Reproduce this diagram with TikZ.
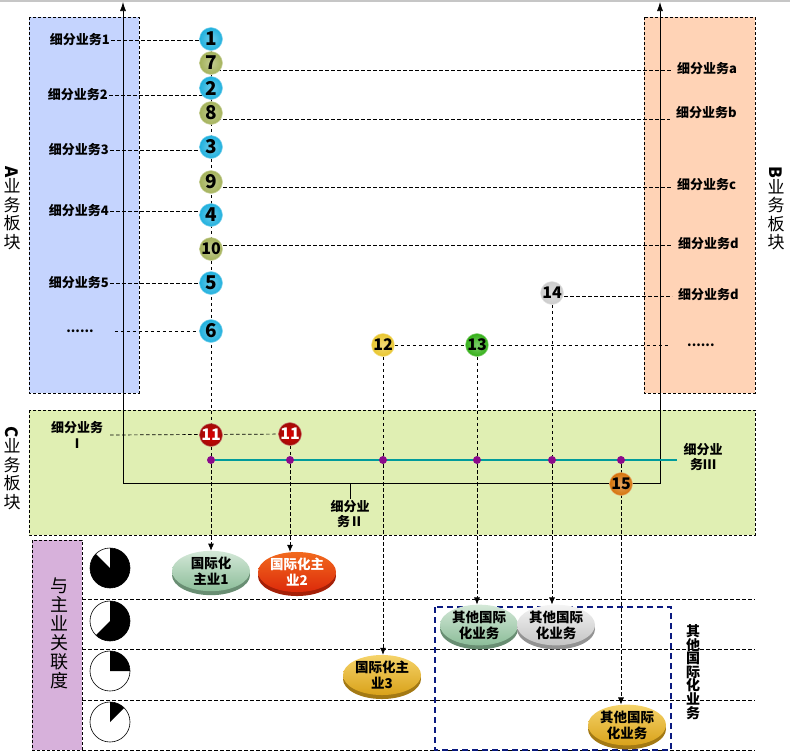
\documentclass[tikz,border=0pt]{standalone}
\usepackage{fontspec}
\setmainfont{Noto Sans CJK SC}
\usepackage{graphicx}
\usetikzlibrary{arrows.meta,shapes.geometric,shadows}

\pgfdeclarelayer{boxes}
\pgfdeclarelayer{lines}
\pgfsetlayers{boxes,lines,main}

\newcommand{\tightlines}{\lineskiplimit=-20pt\relax}

\definecolor{boxA}{HTML}{C5D4FE}
\definecolor{boxB}{HTML}{FFD3B6}
\definecolor{boxC}{HTML}{E0EFB3}
\definecolor{boxR}{HTML}{D7B1DB}
\definecolor{ballblue}{HTML}{1FB0DE}
\definecolor{ballolive}{HTML}{A4B25A}
\definecolor{ballred}{HTML}{A00C08}
\definecolor{ballyellow}{HTML}{E9C62E}
\definecolor{ballgreen}{HTML}{34B018}
\definecolor{ballgray}{HTML}{CCCCCC}
\definecolor{ballorange}{HTML}{D5730A}
\definecolor{tealline}{HTML}{009B9B}
\definecolor{dotpurple}{HTML}{8B0A8B}
\definecolor{navyline}{HTML}{0A1A80}
\definecolor{greenT}{HTML}{D4E8D8}
\definecolor{greenB}{HTML}{8CBD99}
\definecolor{redT}{HTML}{F26A1E}
\definecolor{redB}{HTML}{DC2A0A}
\definecolor{goldT}{HTML}{F5D36A}
\definecolor{goldB}{HTML}{D9A21A}
\definecolor{grayT}{HTML}{F4F4F4}
\definecolor{grayB}{HTML}{C4C4C4}

\tikzset{
	ball/.style={circle, shading=radial, inner color=#1!65!white, outer color=#1, draw=#1!55!white, line width=0.5pt,
		minimum size=23pt, inner sep=0pt, font=\fontsize{19}{19}\selectfont\bfseries},
	ballii/.style={ball=#1, font=\fontsize{16}{16}\selectfont\bfseries},
	redball/.style={ballii=ballred, inner color=red!85!black, text=white},
	dot/.style={circle, fill=dotpurple, minimum size=8pt, inner sep=0pt},
	sub/.style={font=\fontsize{13}{15.5}\selectfont\bfseries, inner sep=1pt, align=center},
	side/.style={font=\fontsize{17}{18.5}\selectfont, align=center, inner sep=0pt},
	disc/.style 2 args={ellipse, minimum width=78pt, minimum height=32pt, inner sep=0pt, align=center,
		font=\fontsize{13.5}{16}\selectfont\bfseries, top color=#1, bottom color=#2,
		general shadow={shadow xshift=0pt, shadow yshift=-4pt, fill=#2!75!black}},
	link/.style={dash pattern=on 3.5pt off 2.5pt, line width=0.7pt},
	linkarrow/.style={link, -{Latex[length=7pt, width=6pt]}},
	panel/.style={dash pattern=on 3pt off 2pt, line width=0.6pt},
}

\begin{document}
\begin{tikzpicture}[x=1pt, y=-1pt]
	\useasboundingbox (0, 0) rectangle (790, 753);

	% numbered balls
	\node[ball=ballblue] (c1) at (211, 39) {1};
	\node[ball=ballolive] (c7) at (211, 63) {7};
	\node[ball=ballblue] (c2) at (211, 88) {2};
	\node[ball=ballolive] (c8) at (211, 113) {8};
	\node[ball=ballblue] (c3) at (211, 147) {3};
	\node[ball=ballolive] (c9) at (211, 182) {9};
	\node[ball=ballblue] (c4) at (211, 215) {4};
	\node[ballii=ballolive] (c10) at (211, 249) {10};
	\node[ball=ballblue] (c5) at (211, 283) {5};
	\node[ball=ballblue] (c6) at (211, 331) {6};
	\node[redball] (c11a) at (211, 435) {11};
	\node[redball] (c11b) at (290, 434) {11};
	\node[ballii=ballyellow] (c12) at (383, 345) {12};
	\node[ballii=ballgreen] (c13) at (477, 345) {13};
	\node[ballii=ballgray] (c14) at (552, 293) {14};
	\node[ballii=ballorange] (c15) at (621, 484) {15};

	% dots on the C line
	\node[dot] (d1) at (211, 460) {};
	\node[dot] (d2) at (290, 460) {};
	\node[dot] (d3) at (383, 460) {};
	\node[dot] (d4) at (477, 460) {};
	\node[dot] (d5) at (552, 460) {};
	\node[dot] (d6) at (621, 460) {};

	% A labels
	\node[sub, anchor=east] (a1) at (111, 40) {细分业务1};
	\node[sub, anchor=east] (a2) at (109, 95) {细分业务2};
	\node[sub, anchor=east] (a3) at (110, 150) {细分业务3};
	\node[sub, anchor=east] (a4) at (110, 211) {细分业务4};
	\node[sub, anchor=east] (a5) at (110, 283) {细分业务5};
	\node[sub] (a6) at (80, 331) {......};

	% B labels
	\node[sub, anchor=west, inner xsep=6pt] (b1) at (671, 69) {细分业务a};
	\node[sub, anchor=west, inner xsep=6pt] (b2) at (670, 113) {细分业务b};
	\node[sub, anchor=west, inner xsep=6pt] (b3) at (671, 185) {细分业务c};
	\node[sub, anchor=west, inner xsep=6pt] (b4) at (672, 244) {细分业务d};
	\node[sub, anchor=west, inner xsep=6pt] (b5) at (672, 295) {细分业务d};
	\node[sub, anchor=west, inner xsep=17pt] (b6) at (670, 345) {......};

	% C labels
	\node[sub] (cI) at (77, 435) {细分业务\\Ⅰ};
	\node[sub] (cII) at (350, 514) {细分业\\务Ⅱ};
	\node[sub] (cIII) at (703, 457) {细分业\\务Ⅲ};

	% discs
	\node[disc={greenT}{greenB}] (m1) at (211, 571) {国际化\\主业1};
	\node[disc={redT}{redB}, text=white] (m2) at (297, 572) {国际化主\\业2};
	\node[disc={goldT}{goldB}] (m3) at (382, 675) {国际化主\\业3};
	\node[disc={greenT}{greenB}] (o1) at (479, 625) {其他国际\\化业务};
	\node[disc={grayT}{grayB}] (o2) at (556, 625) {其他国际\\化业务};
	\node[disc={goldT}{goldB}] (o3) at (627, 725) {其他国际\\化业务};

	% side texts
	\node[side] (sideA) at (12, 208) {\rotatebox{-90}{\bfseries A}\\业\\务\\板\\块};
	\node[side] (sideB) at (776, 208) {\rotatebox{-90}{\bfseries B}\\业\\务\\板\\块};
	\node[side] (sideC) at (12, 468) {\rotatebox{-90}{\bfseries C}\\业\\务\\板\\块};
	\node[side, font=\fontsize{18}{19}\selectfont] (rel) at (59, 633) {与\\主\\业\\关\\联\\度};
	\node[align=center, inner sep=0pt, font=\fontsize{14}{13.6}\selectfont\bfseries\tightlines] (other) at (693, 672) {其\\他\\国\\际\\化\\业\\务};

	% pies
	\foreach \y/\a in {568/-225, 621/-135, 671/0, 722/45} {
		\fill[white] (110, \y) circle[radius=20pt];
		\fill (110, \y) -- ++(90:20pt) arc[start angle=90, end angle=\a, radius=20pt] -- cycle;
		\draw[line width=0.6pt] (110, \y) circle[radius=20pt];
	}

	\begin{pgfonlayer}{boxes}
		\draw[gray!45, line width=1.5pt] (0, 1) -- (790, 1);
		\draw[panel, fill=boxA] (29, 17) rectangle (139, 393);
		\draw[panel, fill=boxB] (644, 17) rectangle (755, 393);
		\draw[panel, fill=boxC] (29, 410) rectangle (755, 535);
		\draw[panel, fill=boxR] (32, 540) rectangle (82, 750);
	\end{pgfonlayer}

	\begin{pgfonlayer}{lines}
		% frame with two arrows
		\coordinate (ta) at (123, 2);
		\coordinate (bl) at (123, 483);
		\coordinate (br) at (660, 483);
		\coordinate (tb) at (660, 2);
		\draw[line width=0.7pt, {Latex[length=9pt, width=6pt]}-{Latex[length=9pt, width=6pt]}] (ta) -- (bl) -- (br) -- (tb);
		\draw[line width=0.7pt] (cII.north) -- (cII.north |- bl);

		% A side
		\path[link] (a1.east) edge (a1.east -| c1);
		\path[link] (a2.east) edge (a2.east -| c2);
		\path[link] (a3.east) edge (a3.east -| c3);
		\path[link] (a4.east) edge (a4.east -| c4);
		\path[link] (a5.east) edge (a5.east -| c5);
		\path[link] ([xshift=20pt]a6.east) edge (a6.east -| c6);

		% B side
		\path[link] ([yshift=-1pt]b1.west -| c7) edge ([yshift=-1pt]b1.west);
		\path[link] ([yshift=-6pt]b2.west -| c8) edge ([yshift=-6pt]b2.west);
		\path[link] ([yshift=-2pt]b3.west -| c9) edge ([yshift=-2pt]b3.west);
		\path[link] ([yshift=-1pt]b4.west -| c10) edge ([yshift=-1pt]b4.west);
		\path[link] ([yshift=-1pt]b5.west -| c14) edge ([yshift=-1pt]b5.west);
		\path[link] (c12) edge (b6.west);

		% C side
		\path[link] ([xshift=6pt]cI.east |- c11a) edge (c11b);
		\draw[tealline, line width=2.5pt] (d1) -- ([xshift=-5pt]cIII.west |- d1);

		% down to the discs
		\draw[link] (c1) -- (d1);
		\draw[linkarrow] (d1) -- (m1.north);
		\draw[link] (c11b) -- (d2);
		\draw[linkarrow] (d2) -- (d2 |- m2.north);
		\draw[link] (c12) -- (d3);
		\draw[linkarrow] (d3) -- (d3 |- m3.north);
		\draw[link] (c13) -- (d4);
		\draw[linkarrow] (d4) -- (d4 |- o1.north);
		\draw[link] (c14) -- (d5);
		\draw[linkarrow] (d5) -- (d5 |- o2.north);
		\draw[linkarrow] (d6) -- (d6 |- o3.north);

		% rows
		\foreach \y in {599, 649, 700, 750}
			\draw[link] (82, \y) -- (755, \y);
		\draw[navyline, line width=1.8pt, dash pattern=on 6pt off 4pt] (435, 607) rectangle (671, 750);
	\end{pgfonlayer}

\end{tikzpicture}
\end{document}
